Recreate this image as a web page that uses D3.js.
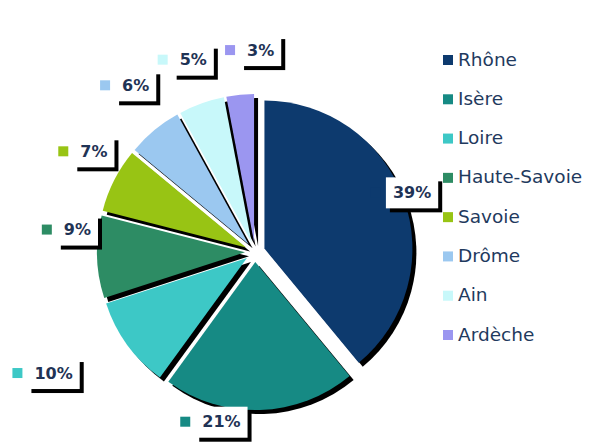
<!DOCTYPE html>
<html>
<head>
<meta charset="utf-8">
<script src="https://cdn.jsdelivr.net/npm/d3@7"></script>
<style>
  body { margin: 0; background: #fff; }
  svg { display: block; }
</style>
</head>
<body>
<svg id="vis" width="589" height="442"></svg>
<script>
// Données
const departements = ["Rhône", "Isère", "Loire", "Haute-Savoie", "Savoie", "Drôme", "Ain", "Ardèche"];
const parts = [39, 21, 10, 9, 7, 6, 5, 3];
const couleurs = ["#0d3a6e", "#168a84", "#3dc8c6", "#2d8c64", "#98c414", "#9bc8f0", "#c8f8fa", "#9b96f0"];

// Position des étiquettes (distance au centre et décalage d'angle en degrés)
const labelDist = [168, 173, 235, 179, 190, 205, 202, 202];
const labelShift = [-1, 13, 5, 9, 5, 4, 2, 7];

const SVG = d3.select("#vis");
const cx = 255, cy = 252, rayon = 148, eclat = 10;

const pie = d3.pie().sort(null).value(d => d)(parts);
const arc = d3.arc().innerRadius(0).outerRadius(rayon);

const milieu = d => (d.startAngle + d.endAngle) / 2;
const decal = d => [Math.sin(milieu(d)) * eclat, -Math.cos(milieu(d)) * eclat];

const camembert = SVG.append("g").attr("transform", `translate(${cx},${cy})`);

// Ombres
camembert.selectAll("path.ombre")
  .data(pie)
  .join("path")
  .attr("class", "ombre")
  .attr("d", arc)
  .attr("fill", "#000")
  .attr("transform", d => `translate(${decal(d)[0] + 4},${decal(d)[1] + 4})`);

// Parts
camembert.selectAll("path.part")
  .data(pie)
  .join("path")
  .attr("class", "part")
  .attr("d", arc)
  .attr("fill", (d, i) => couleurs[i])
  .attr("transform", d => `translate(${decal(d)[0]},${decal(d)[1]})`);

// Étiquettes
const etiquettes = camembert.selectAll("g.etiquette")
  .data(pie)
  .join("g")
  .attr("class", "etiquette")
  .attr("transform", (d, i) => {
    const a = milieu(d) + labelShift[i] * Math.PI / 180;
    return `translate(${Math.sin(a) * labelDist[i]},${-Math.cos(a) * labelDist[i]})`;
  });

etiquettes.each(function(d, i) {
  const g = d3.select(this);
  const t = g.append("text")
    .attr("text-anchor", "middle")
    .attr("dy", "0.36em")
    .attr("font-family", "DejaVu Sans").attr("font-weight", "bold")
    .attr("font-size", 16).attr("fill", "#1f3355")
    .text(parts[i] + "%");
  const w = t.node().getComputedTextLength();
  g.insert("rect", "text")
    .attr("x", -w / 2 - 7).attr("y", -15)
    .attr("width", w + 14).attr("height", 31)
    .attr("fill", "#fff");
  g.insert("rect", "rect")
    .attr("x", -w / 2 - 3).attr("y", -11)
    .attr("width", w + 14).attr("height", 31)
    .attr("fill", "#000");
  g.append("rect")
    .attr("x", -w / 2 - 22).attr("y", -5)
    .attr("width", 10).attr("height", 10)
    .attr("fill", couleurs[i]);
});

// Légende
const yLeg = d3.scalePoint().domain(departements).range([58.5, 333.5]);
const legende = SVG.append("g")
  .selectAll("g")
  .data(departements)
  .join("g")
  .attr("transform", d => `translate(443,${yLeg(d)})`);

legende.append("rect")
  .attr("x", 0).attr("y", -3.5)
  .attr("width", 10).attr("height", 10)
  .attr("fill", (d, i) => couleurs[i]);

legende.append("text")
  .attr("x", 15).attr("y", 7)
  .attr("font-family", "DejaVu Sans").attr("font-size", 18.5)
  .attr("fill", "#1f3a5e")
  .text(d => d);
</script>
</body>
</html>
